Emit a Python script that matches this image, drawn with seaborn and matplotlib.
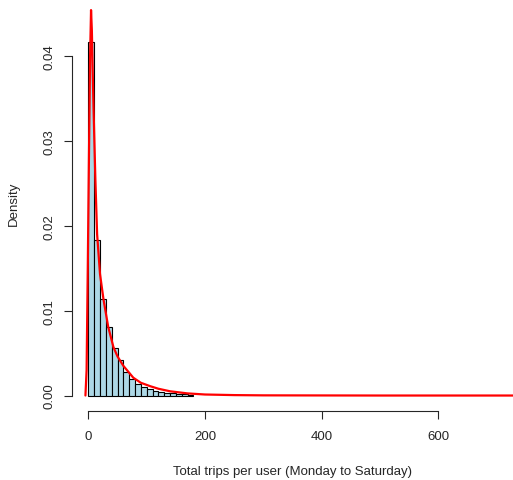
import numpy as np
import pandas as pd
import matplotlib
matplotlib.use("Agg")
import matplotlib.pyplot as plt
import seaborn as sns

# histogram bins (width 10) and densities
bin_edges = list(range(0, 190, 10))
bin_density = [0.0416, 0.0183, 0.0114, 0.0081, 0.0056, 0.0042, 0.0028, 0.0020,
               0.0014, 0.0010, 0.00079, 0.00059, 0.00045, 0.00035, 0.00027,
               0.00020, 0.00015, 0.00012]

# fitted density curve (red line)
curve_x = [-5, -3, -1, 1, 3, 4.6, 6, 7.5, 9, 12, 15, 20, 26, 34, 43, 50, 60,
           77, 90, 106, 120, 140, 170, 200, 250, 300, 400, 500, 600, 730]
curve_y = [0.0, 0.003, 0.015, 0.028, 0.040, 0.0454, 0.043, 0.038, 0.0335,
           0.0255, 0.0190, 0.0143, 0.0113, 0.0081, 0.0057, 0.0046, 0.0035,
           0.0021, 0.0015, 0.0011, 0.0008, 0.0005, 0.00025, 0.00012, 0.00005,
           0.00002, 0.00001, 0.0, 0.0, 0.0]

x_ticks = [0, 200, 400, 600]
y_ticks = [0.00, 0.01, 0.02, 0.03, 0.04]
y_tick_labels = ["0.00", "0.01", "0.02", "0.03", "0.04"]

sns.set_style("ticks")
plt.rcParams["font.family"] = ["Liberation Sans", "DejaVu Sans"]

bins_df = pd.DataFrame({
    "mid": [e + 5 for e in bin_edges[:-1]],
    "density": bin_density,
})

fig = plt.figure(figsize=(5.13, 4.81), dpi=100)
ax = fig.add_axes([0.1404, 0.1435, 0.8596, 0.867])

sns.histplot(data=bins_df, x="mid", weights="density", bins=bin_edges,
             color="#ADD8E6", edgecolor="black", linewidth=0.8, alpha=1,
             ax=ax)
sns.lineplot(x=curve_x, y=curve_y, color="red", linewidth=1.6, ax=ax,
             sort=False)

ax.set_xlim(-28, 728)
ax.set_ylim(-0.00182, 0.0473)

for side in ["top", "right"]:
    ax.spines[side].set_visible(False)
ax.spines["bottom"].set_bounds(0, 600)
ax.spines["left"].set_bounds(0, 0.04)
ax.spines["bottom"].set_linewidth(0.8)
ax.spines["left"].set_linewidth(0.8)

ax.set_xticks(x_ticks)
ax.set_yticks(y_ticks)
ax.set_yticklabels(y_tick_labels, rotation=90, va="center")
ax.tick_params(axis="both", length=6, width=0.8, labelsize=9.5)
ax.tick_params(axis="x", pad=8)
ax.tick_params(axis="y", pad=6)

ax.set_xlabel("Total trips per user (Monday to Saturday)", fontsize=9.5,
              labelpad=16)
ax.set_ylabel("Density", fontsize=9.5, labelpad=17)

fig.savefig("out.png", dpi=100)
